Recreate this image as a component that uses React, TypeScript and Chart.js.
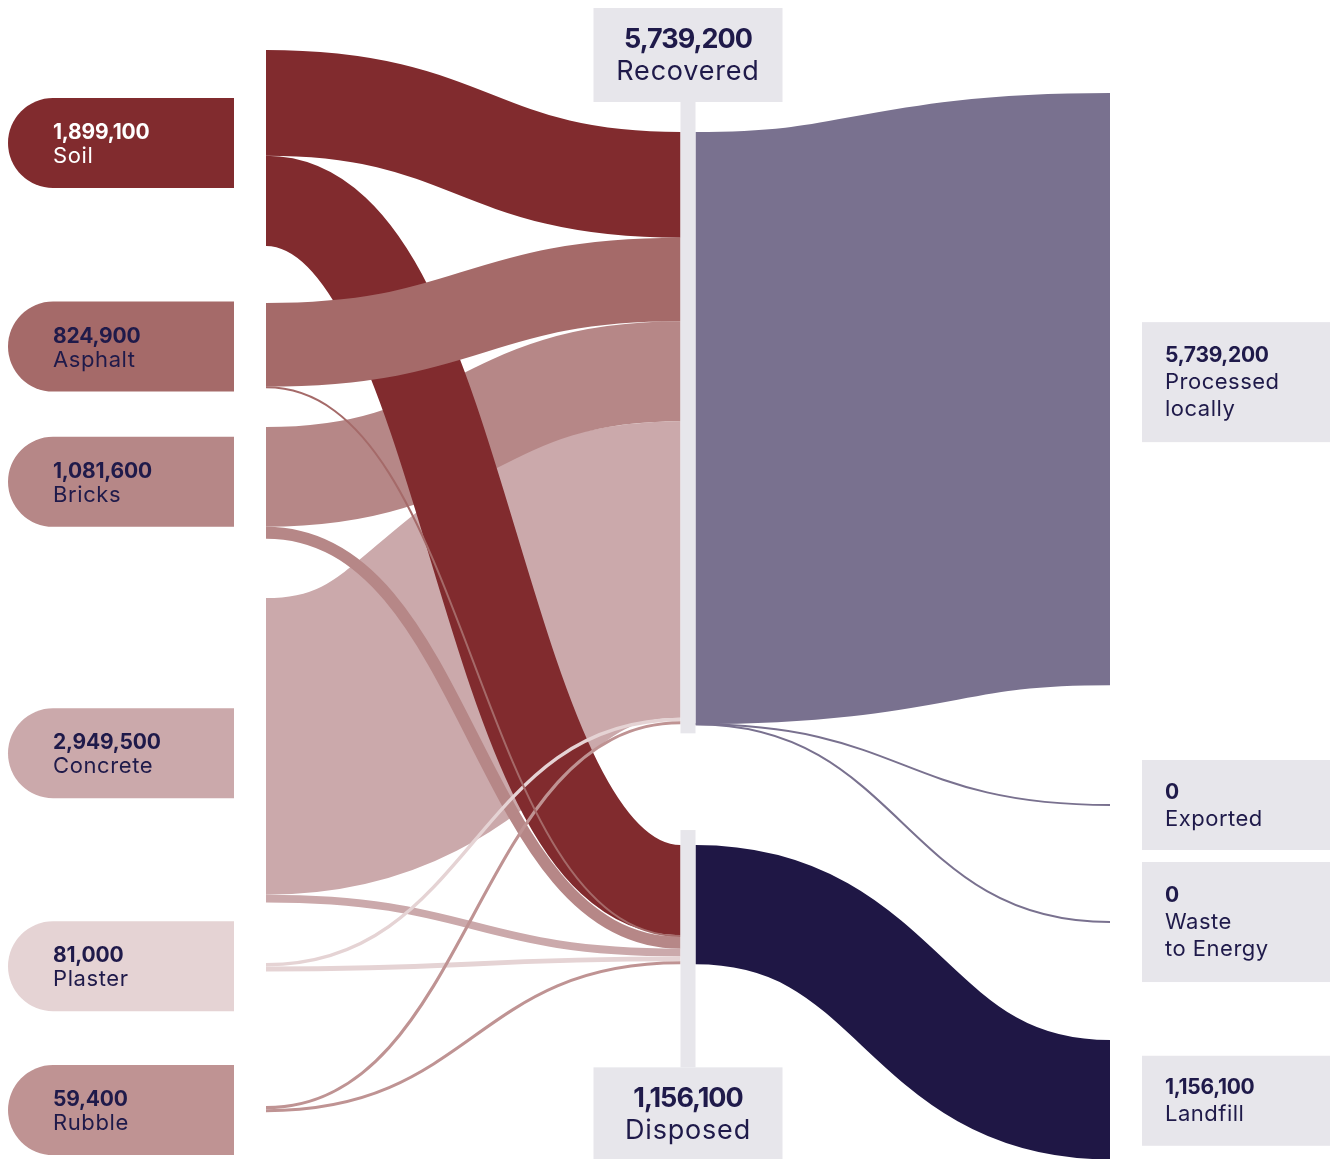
import { useEffect, useRef } from 'react';
import { Chart, registerables } from 'chart.js';

Chart.register(...registerables);

// ---------- data ----------
const SOURCE_NAMES = ['Soil', 'Asphalt', 'Bricks', 'Concrete', 'Plaster', 'Rubble'];
const SOURCE_TOTALS = [1899100, 824900, 1081600, 2949500, 81000, 59400];
const SOURCE_TO_RECOVERED = [1025000, 809900, 966600, 2874500, 33000, 30400];
const SOURCE_TO_DISPOSED = [874100, 15000, 115000, 75000, 48000, 29000];

const HUB_NAMES = ['Recovered', 'Disposed'];
const HUB_TOTALS = [5739200, 1156100];

const DEST_LINES = [['Processed', 'locally'], ['Exported'], ['Waste', 'to Energy'], ['Landfill']];
const DEST_TOTALS = [5739200, 0, 0, 1156100];
const RECOVERED_TO: (number | null)[] = [5739200, 0, 0, null];
const DISPOSED_TO: (number | null)[] = [null, null, null, 1156100];

// ---------- styles / layout ----------
const SOURCE_COLORS = ['#812b2e', '#a56a69', '#b68787', '#cba9ab', '#e5d3d4', '#bf9393'];
const SOURCE_TEXT = ['#ffffff', '#1f1a4a', '#1f1a4a', '#1f1a4a', '#1f1a4a', '#1f1a4a'];
const HUB_COLORS = ['#79718f', '#1f1745'];
const BOX_GREY = '#e7e6eb';
const TEXT_DARK = '#1f1a4a';
const FONT = 'Inter, "Noto Sans", sans-serif';

const Y_MAX = 11230000; // y scale extent in tonnes
const SOURCE_TOPS = [484500, 2936000, 4137600, 5794600, 9331400, 10717000];
const HUB_TOPS = [1279000, 8188000];
const DEST_TOPS = [901000, 7800000, 8934000, 10078000];
const SOURCE_LABEL_NUDGE = [-5, 1, -1, 3, -1, 1];
const DEST_LABEL_NUDGE = [-7, 0, 0, 1];
const NODE_W = 15;

const fmt = (v: number) => v.toLocaleString('en-US');

type Link = { sc: number; si: number; tc: number; ti: number; value: number; color: string; y0?: number; y1?: number };

function buildLinks(): Link[] {
  const links: Link[] = [];
  SOURCE_NAMES.forEach((_, i) => {
    links.push({ sc: 0, si: i, tc: 1, ti: 0, value: SOURCE_TO_RECOVERED[i], color: SOURCE_COLORS[i] });
    links.push({ sc: 0, si: i, tc: 1, ti: 1, value: SOURCE_TO_DISPOSED[i], color: SOURCE_COLORS[i] });
  });
  RECOVERED_TO.forEach((v, j) => {
    if (v !== null) links.push({ sc: 1, si: 0, tc: 2, ti: j, value: v, color: HUB_COLORS[0] });
  });
  DISPOSED_TO.forEach((v, j) => {
    if (v !== null) links.push({ sc: 1, si: 1, tc: 2, ti: j, value: v, color: HUB_COLORS[1] });
  });
  const tops = [SOURCE_TOPS, HUB_TOPS, DEST_TOPS];
  const outOff: Record<string, number> = {};
  const inOff: Record<string, number> = {};
  for (const l of links) {
    const sk = l.sc + ':' + l.si;
    const tk = l.tc + ':' + l.ti;
    const so = outOff[sk] || 0;
    const ti = inOff[tk] || 0;
    l.y0 = tops[l.sc][l.si] + so + l.value / 2;
    l.y1 = tops[l.tc][l.ti] + ti + l.value / 2;
    outOff[sk] = so + l.value;
    inOff[tk] = ti + l.value;
  }
  return links;
}

function textLine(ctx: CanvasRenderingContext2D, s: string, x: number, y: number, font: string, color: string, align: CanvasTextAlign = 'left', spacing = 0) {
  ctx.font = font;
  ctx.fillStyle = color;
  ctx.textAlign = align;
  ctx.textBaseline = 'alphabetic';
  (ctx as any).letterSpacing = spacing + 'px';
  ctx.fillText(s, x, y);
  (ctx as any).letterSpacing = '0px';
}

const sankeyPlugin = {
  id: 'sankeyDraw',
  beforeDatasetsDraw(chart: any) {
    const { ctx } = chart;
    const xs = chart.scales.x;
    const ys = chart.scales.y;
    const px = (v: number) => xs.getPixelForValue(v);
    const py = (v: number) => ys.getPixelForValue(v);
    const pw = (v: number) => Math.abs(py(v) - py(0));

    const links = buildLinks();
    const order = [...links].sort((a, b) => b.value - a.value);

    ctx.save();
    ctx.lineCap = 'butt';
    for (const l of order) {
      const x0 = l.sc === 0 ? px(0) : px(l.sc) + NODE_W / 2;
      const x1 = l.tc === 2 ? px(2) : px(l.tc) - NODE_W / 2;
      const y0 = py(l.y0 as number);
      const y1 = py(l.y1 as number);
      const xm = (x0 + x1) / 2;
      ctx.beginPath();
      ctx.moveTo(x0, y0);
      ctx.bezierCurveTo(xm, y0, xm, y1, x1, y1);
      ctx.lineWidth = Math.max(pw(l.value), 2);
      ctx.strokeStyle = l.color;
      ctx.stroke();
    }

    // source labels (left pills)
    SOURCE_NAMES.forEach((name, i) => {
      const top = py(SOURCE_TOPS[i]);
      const bottom = py(SOURCE_TOPS[i] + SOURCE_TO_RECOVERED[i] + SOURCE_TO_DISPOSED[i]);
      const cy = (top + bottom) / 2 + SOURCE_LABEL_NUDGE[i];
      const right = px(0) - 32;
      const left = 8;
      const r = 45;
      ctx.beginPath();
      ctx.moveTo(right, cy - r);
      ctx.lineTo(left + r, cy - r);
      ctx.arc(left + r, cy, r, -Math.PI / 2, Math.PI / 2, true);
      ctx.lineTo(right, cy + r);
      ctx.closePath();
      ctx.fillStyle = SOURCE_COLORS[i];
      ctx.fill();
      textLine(ctx, fmt(SOURCE_TOTALS[i]), left + 45, cy - 4, `700 21px ${FONT}`, SOURCE_TEXT[i], 'left', -0.2);
      textLine(ctx, name, left + 45, cy + 20, `400 22px ${FONT}`, SOURCE_TEXT[i], 'left', 0.6);
    });

    // hub bars and boxes
    const hubX = px(1);
    const boxW = 189;
    HUB_NAMES.forEach((name, h) => {
      const top = py(HUB_TOPS[h]);
      const bottom = py(HUB_TOPS[h] + HUB_TOTALS[h]);
      let boxTop: number;
      let barTop: number;
      let barBottom: number;
      if (h === 0) {
        boxTop = 8;
        const boxBottom = top - 30;
        barTop = boxBottom;
        barBottom = bottom + 9;
      } else {
        boxTop = bottom + 103;
        barTop = top - 15;
        barBottom = boxTop;
      }
      ctx.fillStyle = BOX_GREY;
      ctx.fillRect(hubX - NODE_W / 2, barTop, NODE_W, barBottom - barTop);
      const boxH = 94;
      ctx.fillRect(hubX - boxW / 2, boxTop, boxW, boxH);
      const cy = boxTop + boxH / 2;
      textLine(ctx, fmt(HUB_TOTALS[h]), hubX, cy - 7, `700 27px ${FONT}`, TEXT_DARK, 'center', -1);
      textLine(ctx, name, hubX, cy + 25, `400 27px ${FONT}`, TEXT_DARK, 'center', 0.8);
    });

    // destination boxes
    DEST_LINES.forEach((lines, j) => {
      const top = py(DEST_TOPS[j]);
      const bottom = py(DEST_TOPS[j] + DEST_TOTALS[j]);
      const cy = (top + bottom) / 2 + DEST_LABEL_NUDGE[j];
      const all = [fmt(DEST_TOTALS[j]), ...lines];
      const n = all.length;
      const h = n === 3 ? 120 : 90;
      const left = px(2) + 32;
      ctx.fillStyle = BOX_GREY;
      ctx.fillRect(left, cy - h / 2, 188, h);
      all.forEach((s, k) => {
        const base = cy + 7 + (k - (n - 1) / 2) * 27;
        textLine(ctx, s, left + 23, base, k === 0 ? `700 21px ${FONT}` : `400 22px ${FONT}`, TEXT_DARK, 'left', k === 0 ? -0.3 : 0.5);
      });
    });
    ctx.restore();
  },
};

export default function App() {
  const ref = useRef<HTMLCanvasElement | null>(null);
  useEffect(() => {
    if (!ref.current) return;
    const chart = new Chart(ref.current, {
      type: 'scatter',
      data: { datasets: [{ data: [], pointRadius: 0 }] },
      options: {
        animation: false,
        responsive: false,
        devicePixelRatio: 1,
        layout: { padding: { left: 266, right: 228, top: 0, bottom: 0 } },
        scales: {
          x: { type: 'linear', min: 0, max: 2, display: false },
          y: { type: 'linear', min: 0, max: Y_MAX, reverse: true, display: false },
        },
        plugins: { legend: { display: false }, tooltip: { enabled: false } },
      },
      plugins: [sankeyPlugin as any],
    });
    return () => chart.destroy();
  }, []);
  return (
    <div style={{ position: 'absolute', left: 0, top: 0, width: 1338, height: 1159, background: '#ffffff' }}>
      <canvas ref={ref} width={1338} height={1159} />
    </div>
  );
}
